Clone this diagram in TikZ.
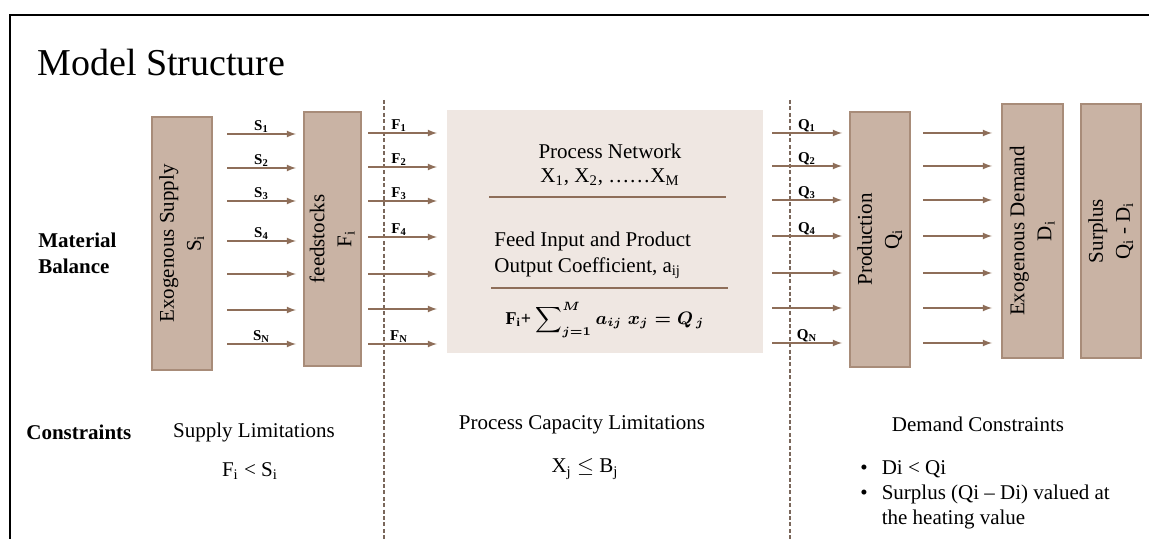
\documentclass[tikz,border=0pt]{standalone}
\usepackage{amsmath}
\usepackage{fontspec}
\setmainfont{Liberation Serif}
\usepackage{tikz}
\usetikzlibrary{calc}

\definecolor{boxfill}{HTML}{C9B3A4}
\definecolor{boxline}{HTML}{A88C79}
\definecolor{flowc}{HTML}{8E6E59}
\definecolor{netfill}{HTML}{EFE7E2}
\definecolor{dashc}{HTML}{7A675B}

\tikzset{
  txt/.style={font=\fontsize{10.5}{13}\selectfont, inner sep=1pt},
  stockbox/.style={draw=boxline, fill=boxfill, line width=0.6pt, inner sep=0pt,
    font=\fontsize{10.5}{13.5}\selectfont},
  flow/.style={flowc, line width=0.6pt, -latex},
  flowlbl/.style={font=\fontsize{7.5}{8}\selectfont\bfseries, text=black, inner sep=0.3pt, above},
  divider/.style={dashc, line width=0.6pt, dash pattern=on 2pt off 1.2pt},
}

\begin{document}
\begin{tikzpicture}[x=0.5pt,y=-0.5pt]
    \useasboundingbox (0,0) rectangle (1149,539);
    \draw [line width=1pt] (1149,15) -- (10,15) -- (10,539);% frame
    \node[anchor=west, font=\fontsize{19}{21}\selectfont, inner sep=0pt] (title) at (37,63) {Model Structure};

    % boxes
    \node[stockbox, minimum width=30pt, minimum height=126.5pt] (supply) at (182,243.5)
        {\rotatebox{90}{\begin{tabular}{@{}c@{}}Exogenous Supply\\ S\textsubscript{i}\end{tabular}}};
    \node[stockbox, minimum width=28.5pt, minimum height=127pt] (feed) at (332.5,239)
        {\rotatebox{90}{\begin{tabular}{@{}c@{}}feedstocks\\ F\textsubscript{i}\end{tabular}}};
    \node[fill=netfill, minimum width=158pt, minimum height=121.5pt, inner sep=0pt] (net) at (605,231.5) {};
    \node[stockbox, minimum width=30pt, minimum height=127.5pt] (prod) at (880,239.5)
        {\rotatebox{90}{\begin{tabular}{@{}c@{}}Production\\ Q\textsubscript{i}\end{tabular}}};
    \node[stockbox, minimum width=30.5pt, minimum height=127pt] (demand) at (1032.5,231)
        {\rotatebox{90}{\begin{tabular}{@{}c@{}}Exogenous Demand\\ D\textsubscript{i}\end{tabular}}};
    \node[stockbox, minimum width=30pt, minimum height=127pt] (surplus) at (1111,231)
        {\rotatebox{90}{\begin{tabular}{@{}c@{}}Surplus\\ Q\textsubscript{i} - D\textsubscript{i}\end{tabular}}};

    % dashed dividers
    \coordinate (d1top) at (384,100);
    \coordinate (d1bot) at (384,539);
    \coordinate (d2top) at (790,100);
    \coordinate (d2bot) at (790,539);
    \draw [divider] (d1top) -- (d1bot);
    \draw [divider] (d2top) -- (d2bot);

    % flows
    \foreach \y/\n/\s in {134/1/S\textsubscript{1}, 168/2/S\textsubscript{2}, 201/3/S\textsubscript{3},
        241/4/S\textsubscript{4}, 274/5/{}, 310/6/{}, 344/7/S\textsubscript{N}}{%
      \path (227,\y) coordinate (sa\n) (296,\y) coordinate (sb\n);
      \draw [flow] (sa\n) -- (sb\n) node[flowlbl, midway] {\s};}
    \foreach \y/\n/\s in {133/1/F\textsubscript{1}, 167/2/F\textsubscript{2}, 201/3/F\textsubscript{3},
        237/4/F\textsubscript{4}, 274/5/{}, 309/6/{}, 344/7/F\textsubscript{N}}{%
      \path (368,\y) coordinate (fa\n) (437,\y) coordinate (fb\n);
      \draw [flow] (fa\n) -- (fb\n) node[flowlbl, pos=0.45] {\s};}
    \foreach \y/\n/\s in {133/1/Q\textsubscript{1}, 166/2/Q\textsubscript{2}, 200/3/Q\textsubscript{3},
        236/4/Q\textsubscript{4}, 273/5/{}, 308/6/{}, 343/7/Q\textsubscript{N}}{%
      \path (772,\y) coordinate (qa\n) (842,\y) coordinate (qb\n);
      \draw [flow] (qa\n) -- (qb\n) node[flowlbl, pos=0.5] {\s};
      \path (923,\y) coordinate (da\n) (992,\y) coordinate (db\n);
      \draw [flow] (da\n) -- (db\n);}

    % process network contents
    \node[txt] (pnet) at (610,151) {Process Network};
    \node[txt] (xvars) at (610,177) {X\textsubscript{1}, X\textsubscript{2}, \dots\dots X\textsubscript{M}};
    \draw [flowc, line width=0.6pt] (489,197) -- (726,197);
    \node[txt, anchor=west, align=left] (coef) at (492,255)
        {Feed Input and Product\\ Output Coefficient, a\textsubscript{ij}};
    \draw [flowc, line width=0.6pt] (491,288) -- (728,288);
    \node[txt, font=\fontsize{9}{11}\selectfont] (balance) at (605,320)
        {\textbf{F\textsubscript{i}+} {\boldmath$\displaystyle\sum\nolimits_{j=1}^{M} a_{ij}\; x_j = Q_{\,j}$}};

    % left labels
    \node[txt, anchor=west, align=left, font=\fontsize{10.5}{13}\selectfont\bfseries] (matbal) at (36,253)
        {Material\\ Balance};
    \node[txt, anchor=west, font=\fontsize{10.5}{13}\selectfont\bfseries] (cons) at (24,432) {Constraints};

    % constraints
    \node[txt] (suplim) at (254,432) {Supply Limitations};
    \node[txt] (suprel) at (250,471) {F\textsubscript{i} < S\textsubscript{i}};
    \node[txt] (caplim) at (582,425) {Process Capacity Limitations};
    \node[txt] (caprel) at (585,469) {X\textsubscript{j} $\leq$ B\textsubscript{j}};
    \node[txt] (demlim) at (978,424) {Demand Constraints};
    \node[txt, anchor=north west, align=left] (demrel) at (858,454)
        {\begin{tabular}{@{}l@{\hspace{7pt}}l@{}}
          \textbullet & Di < Qi\\[-0.5pt]
          \textbullet & Surplus (Qi -- Di) valued at\\[-0.5pt]
                      & the heating value
         \end{tabular}};
\end{tikzpicture}
\end{document}
